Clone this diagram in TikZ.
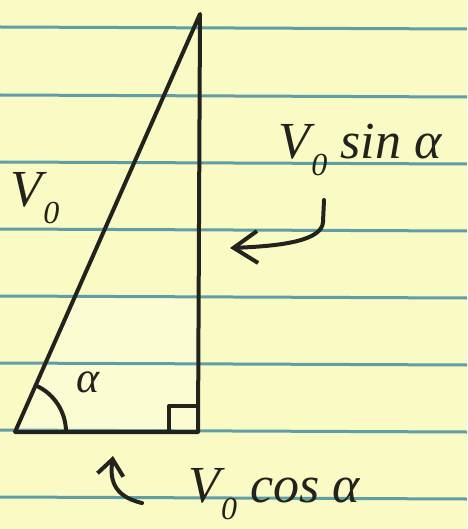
\documentclass[tikz,border=0pt]{standalone}
\usepackage{fontspec}
\setmainfont{Liberation Serif}
\usetikzlibrary{arrows.meta,calc}
\definecolor{paper}{RGB}{250,250,196}
\definecolor{paperlight}{RGB}{252,252,210}
\definecolor{rule}{RGB}{96,158,165}
\definecolor{ink}{RGB}{35,35,30}
\newcommand{\vzero}{V\kern1pt\raisebox{-0.32em}{\fontsize{32}{32}\selectfont 0}}
\tikzset{
  ruleline/.style={rule,line width=3pt},
  pen/.style={ink,line width=4pt,line cap=round,line join=round},
  lbl/.style={ink,inner sep=0pt,font=\fontsize{52}{56}\selectfont\itshape},
  barb/.style={-{Straight Barb[length=24pt,width=32pt,line width=4pt]}},
  smallbarb/.style={-{Straight Barb[length=16pt,width=26pt,line width=4pt]}}
}
\begin{document}
\begin{tikzpicture}[x=1pt,y=-1pt]
\fill[paper] (0,0) rectangle (467,529);
\useasboundingbox (0,0) rectangle (467,529);
% triangle
\coordinate (A) at (15,432);
\coordinate (B) at (198,432);
\coordinate (C) at (200,14);
\fill[paperlight] (A) -- (B) -- (199,297) -- (74,297) -- cycle;
% ruled lines
\foreach \y in {27,95,162,229,296,363,430,497}
  \draw[ruleline] (0,\y) -- (467,\y+2);
\draw[pen] (A) -- (B) -- (C) -- cycle;
% angle arc
\draw[pen] ($(A)+(51,0)$) arc[start angle=0,end angle=-66,radius=51];
% right angle box
\draw[pen] (169,432) -- (169,406) -- (198,406);
% labels
\node[lbl] (v0) at (35,198) {\vzero};
\node[lbl] (vsin) at (360,150) {\vzero\ sin α};
\node[lbl] (vcos) at (274,494) {\vzero\ cos α};
\node[lbl,font=\fontsize{44}{48}\selectfont\itshape] (alpha) at (88,382) {α};
% arrows
\coordinate (s1) at (324,200);
\coordinate (t1) at (230,248);
\draw[pen,barb] (s1) -- (323,222) .. controls (322,240) and (285,246) .. (t1);
\coordinate (s2) at (142,503);
\coordinate (t2) at (113,456);
\draw[pen,smallbarb] (s2) .. controls (112,496) and (110,478) .. (t2);
\end{tikzpicture}
\end{document}
